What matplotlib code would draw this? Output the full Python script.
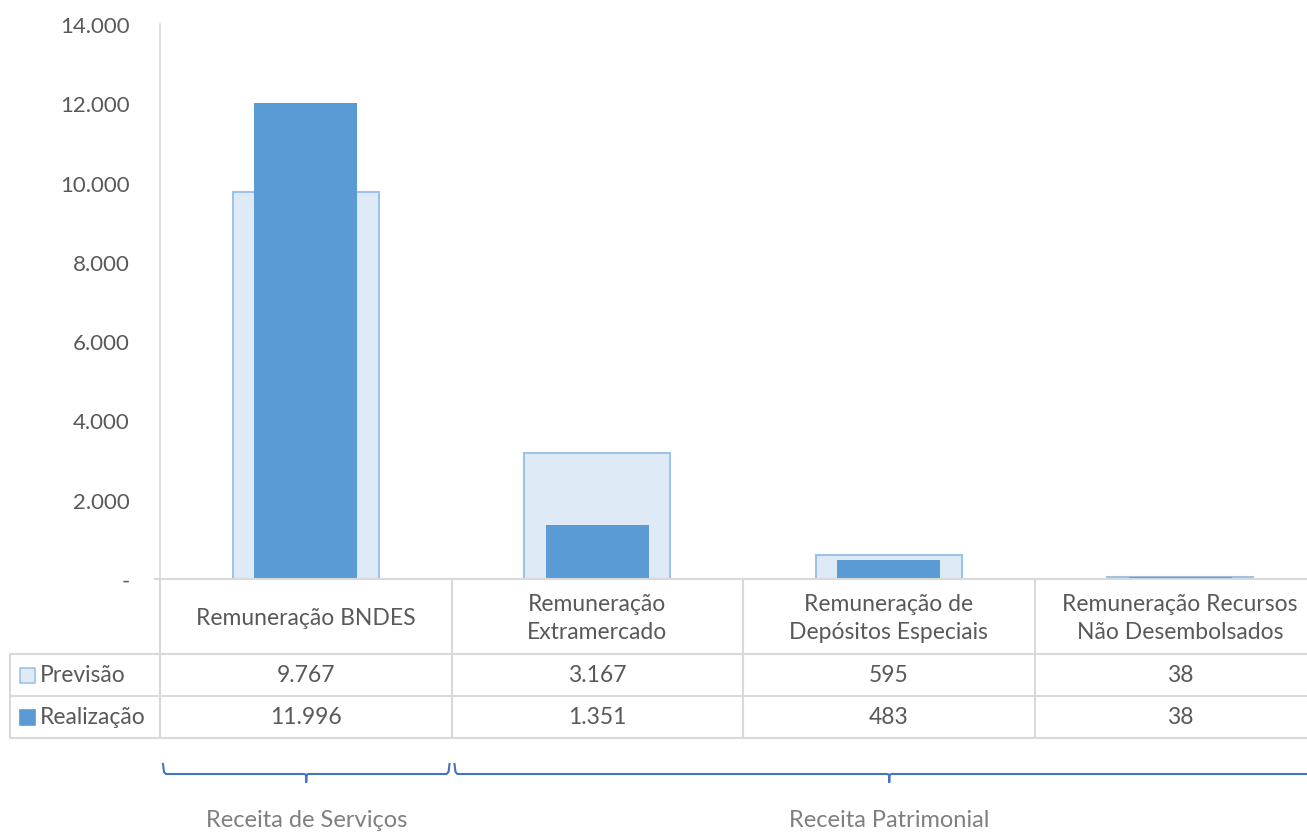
import numpy as np
import matplotlib.pyplot as plt

plt.rcParams['font.family'] = ['Lato', 'DejaVu Sans']

categories = ['Remuneração BNDES', 'Remuneração\nExtramercado',
              'Remuneração de\nDepósitos Especiais', 'Remuneração Recursos\nNão Desembolsados']
previsao = [9767, 3167, 595, 38]
realizacao = [11996, 1351, 483, 38]
series_names = ['Previsão', 'Realização']
groups = ['Receita de Serviços', 'Receita Patrimonial']
group_span = [(0, 0), (1, 3)]

yticks = [0, 2000, 4000, 6000, 8000, 10000, 12000, 14000]

def fmt(v):
  if v == 0:
    return '-'
  return '{:,}'.format(v).replace(',', '.')

W, H = 1307, 837
c_prev = '#DEEBF7'
c_prev_edge = '#9DC3E6'
c_real = '#5B9BD5'
c_grid = '#D9D9D9'
c_text = '#595959'
fs = 16.5

fig = plt.figure(figsize=(W / 100, H / 100), dpi=100)

# plot area in pixels
x0, col_w = 160, 291.5
y_top, y_zero = 25, 580
ax = fig.add_axes([x0 / W, (H - y_zero) / H, 4 * col_w / W, (y_zero - y_top) / H])
x = np.arange(len(categories))
ax.bar(x, previsao, width=0.5, color=c_prev, edgecolor=c_prev_edge, linewidth=1.5, zorder=2)
ax.bar(x, realizacao, width=0.355, color=c_real, zorder=3)
ax.set_xlim(-0.5, len(categories) - 0.5)
ax.set_ylim(0, 14000)
ax.set_xticks([])
ax.set_yticks(yticks)
ax.set_yticklabels([fmt(v) for v in yticks], fontsize=16, color=c_text)
ax.tick_params(axis='y', length=0, pad=22)
for s in ['top', 'right', 'bottom']:
  ax.spines[s].set_visible(False)
ax.spines['left'].set_color(c_grid)
ax.spines['left'].set_linewidth(1.2)

# overlay in pixel coords for table and braces
ov = fig.add_axes([0, 0, 1, 1])
ov.set_xlim(0, W)
ov.set_ylim(H, 0)
ov.axis('off')

lw = 1.5
rows = [580, 655, 697, 739]
xr = W + 30
ov.plot([155, xr], [rows[0]] * 2, color=c_grid, lw=lw)
for yy in rows[1:]:
  ov.plot([10, xr], [yy] * 2, color=c_grid, lw=lw)
ov.plot([10, 10], [rows[1], rows[3]], color=c_grid, lw=lw)
for i in range(len(categories)):
  xx = x0 + i * col_w
  ov.plot([xx, xx], [rows[0], rows[3]], color=c_grid, lw=lw)

centers = [x0 + (i + 0.5) * col_w for i in range(len(categories))]
for cx, cat in zip(centers, categories):
  ov.text(cx, (rows[0] + rows[1]) / 2 + 1, cat, ha='center', va='center',
          fontsize=fs, color=c_text, linespacing=1.45)
for r, (name, vals, fc, ec) in enumerate([(series_names[0], previsao, c_prev, c_prev_edge),
                                           (series_names[1], realizacao, c_real, c_real)]):
  yc = (rows[r + 1] + rows[r + 2]) / 2
  ov.add_patch(plt.Rectangle((20, yc - 7), 15, 15, facecolor=fc, edgecolor=ec, lw=1.2))
  ov.text(40, yc, name, ha='left', va='center', fontsize=fs, color=c_text)
  for cx, v in zip(centers, vals):
    ov.text(cx, yc, fmt(v), ha='center', va='center', fontsize=fs, color=c_text)

# braces
c_brace = '#4472C4'
yb = 775
for (a, b), g in zip(group_span, groups):
  xa = x0 + a * col_w + 3
  xb = x0 + (b + 1) * col_w - 2
  xm = (xa + xb) / 2
  ov.plot([xa, xa + 1, xa + 3, xm - 2, xm, xm, xm, xm + 2, xb - 3, xb - 1, xb],
          [yb - 10, yb - 2, yb, yb, yb + 1, yb + 8, yb + 1, yb, yb, yb - 2, yb - 10],
          color=c_brace, lw=1.5, solid_joinstyle='round')
  ov.text(xm, 821, g, ha='center', va='center', fontsize=17, color='#7F7F7F')

fig.savefig('out.png', dpi=100)
